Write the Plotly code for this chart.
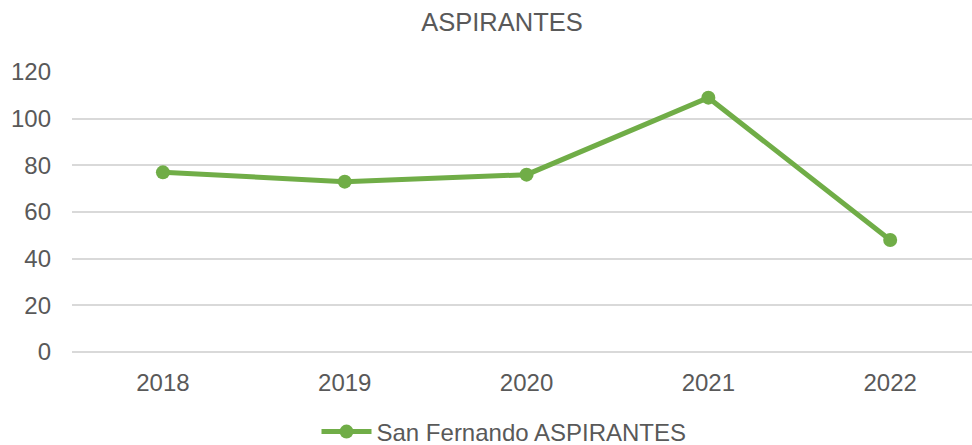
import plotly.graph_objects as go

years = ["2018", "2019", "2020", "2021", "2022"]
aspirantes = [77, 73, 76, 109, 48]
series_name = "San Fernando ASPIRANTES"
y_ticks = [0, 20, 40, 60, 80, 100, 120]

GREEN = "#70AD47"
GRAY = "#595959"
FONT = "Liberation Sans, Arial, sans-serif"

fig = go.Figure()
fig.add_trace(go.Scatter(
    x=years, y=aspirantes, name=series_name, mode="lines+markers",
    line=dict(color=GREEN, width=5),
    marker=dict(color=GREEN, size=14),
))

fig.update_layout(
    width=972, height=445,
    margin=dict(l=72, r=0, t=72, b=93, autoexpand=False),
    paper_bgcolor="white", plot_bgcolor="white",
    font=dict(family=FONT, color=GRAY, size=24),
    title=dict(text="ASPIRANTES", x=502 / 972, xanchor="center", xref="container",
               y=1 - 22 / 445, yanchor="middle", yref="container",
               font=dict(size=25.5, color=GRAY, family=FONT)),
    showlegend=True,
    legend=dict(orientation="h", x=504 / 972, xanchor="center", xref="container",
                y=1 - 432 / 445, yanchor="middle", yref="container",
                itemwidth=50,
                font=dict(size=24, color=GRAY, family=FONT), bgcolor="rgba(0,0,0,0)"),
    xaxis=dict(type="category", range=[-0.5, 4.45], showgrid=False, showline=False,
               zeroline=False, ticks="", tickfont=dict(size=24, color=GRAY),
               ticklabelstandoff=14, automargin=False),
    yaxis=dict(range=[0, 120], tickvals=y_ticks, showgrid=True, gridcolor="#D9D9D9",
               gridwidth=1.5, zeroline=True, zerolinecolor="#D9D9D9", zerolinewidth=1.5,
               showline=False, ticks="",
               tickfont=dict(size=24, color=GRAY), ticklabelstandoff=20,
               automargin=False),
)

fig.write_html("out.html", config={"displayModeBar": False},
               post_script="document.body.style.margin='0';document.body.style.overflow='hidden';")
